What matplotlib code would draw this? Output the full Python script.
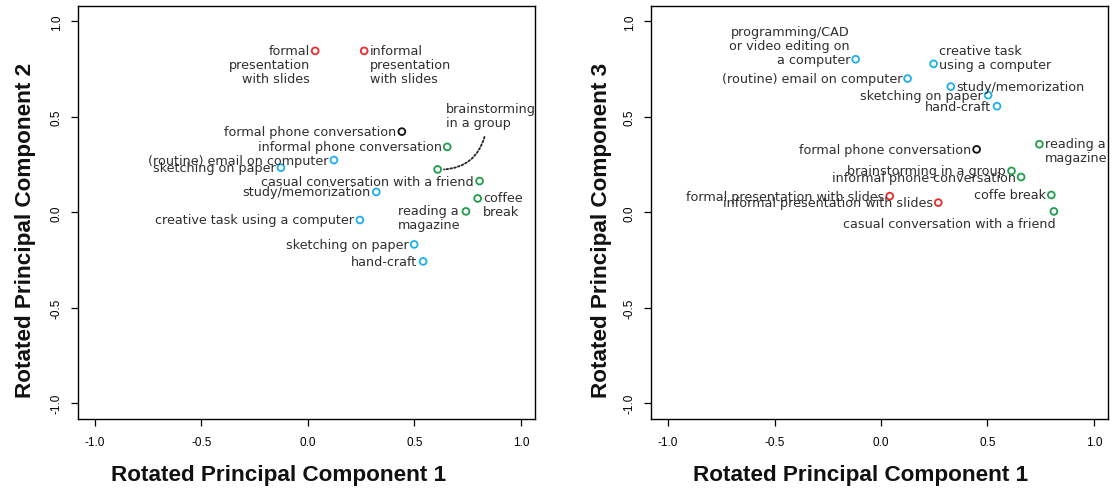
import numpy as np
import matplotlib
matplotlib.use("Agg")
import matplotlib.pyplot as plt

# /=========================================================================
# data

RED = "#ee2a2a"
BLUE = "#1cb0ec"
GREEN = "#1f9d4a"
BLACK = "#111111"

# panel 1: component 1 vs component 2
p1_labels = ["formal\npresentation\nwith slides", "informal\npresentation\nwith slides",
             "formal phone conversation", "informal phone conversation",
             "(routine) email on computer", "sketching on paper",
             "brainstorming\nin a group", "casual conversation with a friend",
             "study/memorization", "coffee\nbreak", "reading a\nmagazine",
             "creative task using a computer", "sketching on paper", "hand-craft"]
p1_x = [0.034, 0.264, 0.441, 0.654, 0.122, -0.127, 0.609, 0.806,
        0.321, 0.797, 0.742, 0.244, 0.499, 0.541]
p1_y = [0.846, 0.846, 0.423, 0.343, 0.274, 0.234, 0.225, 0.164,
        0.107, 0.073, 0.005, -0.040, -0.168, -0.257]
p1_col = [RED, RED, BLACK, GREEN, BLUE, BLUE, GREEN, GREEN,
          BLUE, GREEN, GREEN, BLUE, BLUE, BLUE]
# where the label goes: l = left, r = right, etc.
p1_pos = ["lt", "rt", "l", "l", "l", "l", "brain", "l",
          "l", "rt", "read", "l", "l", "l"]

# panel 2: component 1 vs component 3
p2_labels = ["programming/CAD\nor video editing on\na computer",
             "creative task\nusing a computer", "(routine) email on computer",
             "study/memorization", "sketching on paper", "hand-craft",
             "formal phone conversation", "reading a\nmagazine",
             "brainstorming in a group", "informal phone conversation",
             "formal presentation with slides", "informal presentation with slides",
             "coffe break", "casual conversation with a friend"]
p2_x = [-0.119, 0.247, 0.125, 0.328, 0.503, 0.545, 0.449, 0.744,
        0.613, 0.658, 0.041, 0.269, 0.800, 0.812]
p2_y = [0.802, 0.778, 0.701, 0.659, 0.614, 0.556, 0.330, 0.357,
        0.217, 0.185, 0.085, 0.051, 0.091, 0.005]
p2_col = [BLUE, BLUE, BLUE, BLUE, BLUE, BLUE, BLACK, GREEN,
          GREEN, GREEN, RED, RED, GREEN, GREEN]
p2_pos = ["lb", "rb", "l", "r", "l", "l", "l", "rt",
          "l", "l", "l", "l", "l", "below"]

ticks = [-1.0, -0.5, 0.0, 0.5, 1.0]

# =========================================================================/

TXT = "#2e2e2e"
FS = 9.2


def put_label(ax, x, y, s, pos):
    kw = dict(xy=(x, y), textcoords="offset points", fontsize=FS,
              color=TXT, linespacing=1.1, family="DejaVu Sans")
    if pos == "l":
        ax.annotate(s, xytext=(-4, 0), ha="right", va="center", **kw)
    elif pos == "r":
        ax.annotate(s, xytext=(4, 0), ha="left", va="center", **kw)
    elif pos == "lt":
        ax.annotate(s, xytext=(-4, 5), ha="right", va="top", multialignment="right", **kw)
    elif pos == "rt":
        ax.annotate(s, xytext=(4, 5), ha="left", va="top", multialignment="left", **kw)
    elif pos == "lb":
        ax.annotate(s, xytext=(-4, -5), ha="right", va="bottom", multialignment="right", **kw)
    elif pos == "rb":
        ax.annotate(s, xytext=(4, -5), ha="left", va="bottom", multialignment="left", **kw)
    elif pos == "below":
        ax.annotate(s, xytext=(1, -4), ha="right", va="top", **kw)
    elif pos == "read":
        # sits left of the point, both lines flush left
        ax.annotate(s, xytext=(-49, 5), ha="left", va="top", multialignment="left", **kw)
    elif pos == "brain":
        ax.annotate(s, xytext=(6, 39), ha="left", va="center", multialignment="left", **kw)
        # dotted leader from point to label
        ax.annotate("", xy=(x + 0.03, y + 0.0), xytext=(x + 0.22, y + 0.17),
                    arrowprops=dict(arrowstyle="-", linestyle=(0, (1, 1.2)), lw=1.3,
                                    color="#222222", connectionstyle="arc3,rad=-0.35",
                                    shrinkA=0, shrinkB=0))


def panel(ax, xs, ys, cols, labels, poss):
    ax.scatter(xs, ys, s=24, facecolors="none", edgecolors=cols, linewidths=1.3, zorder=3)
    for x, y, s, p in zip(xs, ys, labels, poss):
        put_label(ax, x, y, s, p)
    ax.set_xlim(-1.08, 1.065)
    ax.set_ylim(-1.083, 1.082)
    ax.set_xticks(ticks)
    ax.set_yticks(ticks)
    ax.set_xticklabels(["%.1f" % t for t in ticks], fontsize=8.5, family="Liberation Sans")
    ax.set_yticklabels(["%.1f" % t for t in ticks], fontsize=8.5, family="Liberation Sans",
                       rotation=90, va="center")
    ax.tick_params(axis="x", length=5, width=0.9, pad=7)
    ax.tick_params(axis="y", length=5, width=0.9, pad=6)
    for sp in ax.spines.values():
        sp.set_linewidth(1.0)


fig = plt.figure(figsize=(11.14, 4.89), dpi=100)
ax1 = fig.add_axes([0.070, 0.141, 0.410, 0.845])
ax2 = fig.add_axes([0.5844, 0.141, 0.410, 0.845])

panel(ax1, p1_x, p1_y, p1_col, p1_labels, p1_pos)
panel(ax2, p2_x, p2_y, p2_col, p2_labels, p2_pos)

lab = dict(fontsize=16.2, fontweight="bold", family="Liberation Sans", color="#111111")
fig.text(279 / 1114, 1 - 476 / 489, "Rotated Principal Component 1", ha="center", va="center", **lab)
fig.text(861 / 1114, 1 - 476 / 489, "Rotated Principal Component 1", ha="center", va="center", **lab)
fig.text(26 / 1114, 1 - 230 / 489, "Rotated Principal Component 2", ha="center", va="center",
         rotation=90, **lab)
fig.text(601 / 1114, 1 - 230 / 489, "Rotated Principal Component 3", ha="center", va="center",
         rotation=90, **lab)

fig.savefig("out.png", dpi=100)
